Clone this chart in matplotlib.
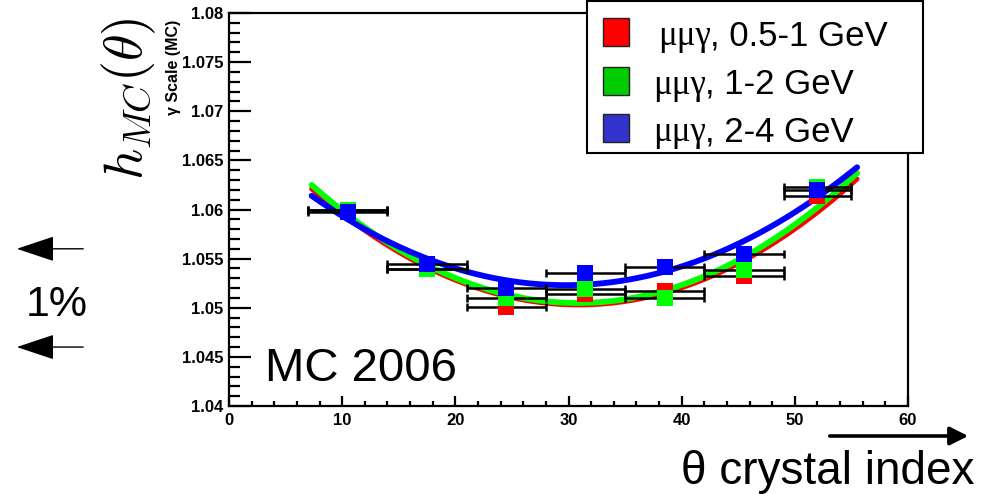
import numpy as np
import matplotlib
matplotlib.use("Agg")
import matplotlib.pyplot as plt
import matplotlib.ticker as ticker
import matplotlib.transforms as mtransforms
from matplotlib.patches import FancyArrowPatch, Rectangle

# theta bins (crystal index) and per-bin photon scale for three energy ranges
x_center = [10.5, 17.5, 24.5, 31.5, 38.5, 45.5, 52.0]
x_err = [3.5, 3.5, 3.5, 3.5, 3.5, 3.5, 3.0]
scale_05_1 = [1.0600, 1.0539, 1.0501, 1.0514, 1.0517, 1.0532, 1.0614]
scale_1_2 = [1.0599, 1.0539, 1.0510, 1.0519, 1.0510, 1.0538, 1.0623]
scale_2_4 = [1.0597, 1.0545, 1.0520, 1.0535, 1.0541, 1.0555, 1.0620]
labels = [", 0.5-1 GeV", ", 1-2 GeV", ", 2-4 GeV"]

# pol2 fit curves, sampled at both ends of the fit range and near the minimum
fit_x = [7.3, 30.0, 55.5]
fit_05_1 = [1.0621, 1.0503, 1.0631]
fit_1_2 = [1.0625, 1.0505, 1.0637]
fit_2_4 = [1.0614, 1.0523, 1.0643]
pct_arrows = [1.056, 1.046]   # 1% band markers on the y scale

marker_cols = ["#ff0000", "#00ff00", "#0000ff"]
legend_cols = ["#ff0000", "#00cc00", "#3333cc"]
fit_lw = [3.5, 4.2, 4.2]

W, H = 997, 494
fig = plt.figure(figsize=(W / 100, H / 100), dpi=100)
ax = fig.add_axes([229 / W, 1 - 406 / H, 679 / W, 393 / H])

x = np.array(x_center)
series = [scale_05_1, scale_1_2, scale_2_4]
fits = [fit_05_1, fit_1_2, fit_2_4]

# fit curves first so the markers sit on top
xf = np.linspace(fit_x[0], fit_x[-1], 300)
for f, c, lw in zip(fits, marker_cols, fit_lw):
    p = np.polyfit(fit_x, f, 2)
    ax.plot(xf, np.polyval(p, xf), color=c, lw=lw, solid_capstyle="round", zorder=2)

for y in series:
    ax.errorbar(x, y, xerr=x_err, fmt="none", ecolor="black", elinewidth=1.8,
                capsize=3, capthick=1.8, zorder=3)
for y, c in zip(series, marker_cols):
    ax.plot(x, y, "s", color=c, ms=11, mew=0, zorder=4)

ax.set_xlim(0, 60)
ax.set_ylim(1.04, 1.08)
ax.xaxis.set_major_locator(ticker.MultipleLocator(10))
ax.xaxis.set_minor_locator(ticker.MultipleLocator(2))
ax.yaxis.set_major_locator(ticker.MultipleLocator(0.005))
ax.yaxis.set_minor_locator(ticker.MultipleLocator(0.001))
ax.yaxis.set_major_formatter(ticker.FuncFormatter(lambda v, _: f"{v:.3f}".rstrip("0")))
ax.tick_params(axis="both", which="both", direction="in", top=False, right=False)
ax.tick_params(axis="y", which="major", length=16, width=1.6, pad=4)
ax.tick_params(axis="y", which="minor", length=8, width=1.6)
ax.tick_params(axis="x", which="major", length=7, width=1.6, pad=5)
ax.tick_params(axis="x", which="minor", length=3.6, width=1.6)
for lab in ax.get_xticklabels() + ax.get_yticklabels():
    lab.set_fontfamily("Liberation Sans")
    lab.set_fontweight("bold")
    lab.set_fontsize(12)
for s in ax.spines.values():
    s.set_linewidth(1.6)

ax.text(3.2, 1.0425, "MC 2006", fontsize=34, family="Liberation Sans",
        ha="left", va="baseline")

# axis titles
fig.text(173 / W, 1 - 67 / H, "γ Scale (MC)", rotation=90, fontsize=11.5,
         fontweight="bold", family="Liberation Sans", ha="center", va="center")
with plt.rc_context({"mathtext.fontset": "cm"}):
    fig.text(129 / W, 1 - 99 / H, r"$h_{MC}(\theta)$", rotation=90, fontsize=39,
             ha="center", va="center")
fig.text(974 / W, 1 - 484 / H, "θ crystal index", fontsize=33,
         family="Liberation Sans", ha="right", va="baseline")
fig.add_artist(FancyArrowPatch((827 / W, 1 - 436 / H), (971 / W, 1 - 436 / H),
                               transform=fig.transFigure,
                               arrowstyle="-|>,head_length=11,head_width=5.5",
                               mutation_scale=1, lw=2.6, color="black"))

# 1% markers on the left
blend = mtransforms.blended_transform_factory(fig.transFigure, ax.transData)
for yv in pct_arrows:
    fig.add_artist(FancyArrowPatch((86 / W, yv), (14 / W, yv), transform=blend,
                                   arrowstyle="-|>,head_length=24,head_width=8",
                                   mutation_scale=1, lw=1.0, color="black"))
fig.text(57 / W, 1 - 316 / H, "1%", fontsize=31, family="Liberation Sans",
         ha="center", va="baseline")

# legend box
fig.add_artist(Rectangle((587 / W, 1 - 153 / H), 336 / W, 152 / H,
                         transform=fig.transFigure, facecolor="white",
                         edgecolor="black", lw=1.5, zorder=5))
row_y = [32, 81, 128]
mu_x = [658, 653, 653]
rest_x = [710, 705, 705]
for i in range(3):
    fig.add_artist(Rectangle((603 / W, 1 - (row_y[i] + 14) / H), 26 / W, 28 / H,
                             transform=fig.transFigure, facecolor=legend_cols[i],
                             edgecolor="#222222", lw=1.0, zorder=6))
    fig.text(mu_x[i] / W, 1 - (row_y[i] + 13) / H, "μμγ", fontsize=25,
             family="Liberation Serif", ha="left", va="baseline", zorder=7)
    fig.text(rest_x[i] / W, 1 - (row_y[i] + 13) / H, labels[i], fontsize=25,
             family="Liberation Sans", ha="left", va="baseline", zorder=7)

fig.savefig("out.png", dpi=100)
